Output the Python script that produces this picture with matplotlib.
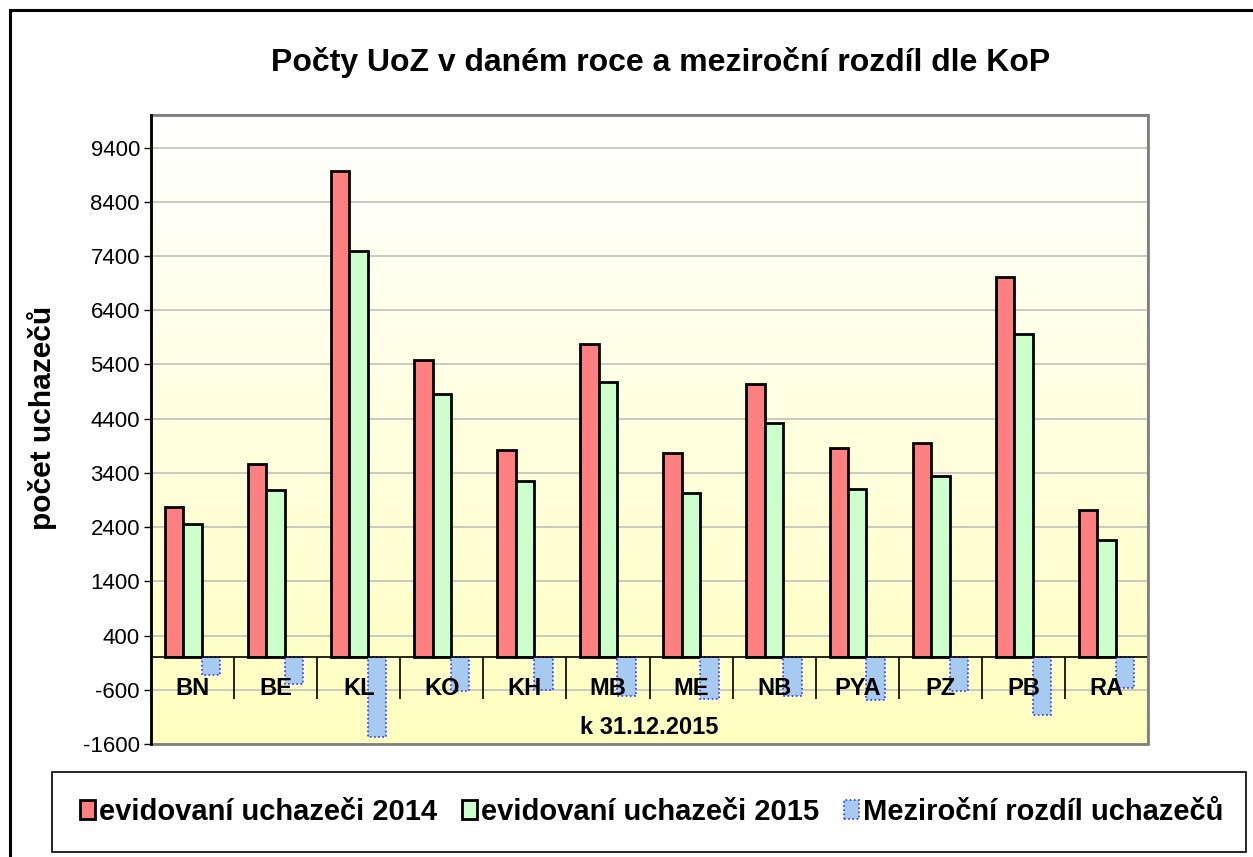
import matplotlib
matplotlib.use("Agg")
import matplotlib.pyplot as plt
import numpy as np
from matplotlib.patches import Rectangle
from matplotlib.colors import LinearSegmentedColormap
from matplotlib.ticker import FixedLocator

plt.rcParams['font.family'] = ['Liberation Sans', 'DejaVu Sans']
plt.rcParams['axes.unicode_minus'] = False

categories = ["BN", "BE", "KL", "KO", "KH", "MB", "ME", "NB", "PYA", "PZ", "PB", "RA"]
uchazeci_2014 = [2775, 3555, 8967, 5480, 3819, 5775, 3771, 5044, 3863, 3943, 7011, 2707]
uchazeci_2015 = [2454, 3076, 7491, 4860, 3242, 5081, 3026, 4325, 3094, 3339, 5959, 2159]
rozdil = [-319, -491, -1476, -627, -596, -707, -762, -720, -793, -614, -1057, -559]
y_ticks = [-1600, -600, 400, 1400, 2400, 3400, 4400, 5400, 6400, 7400, 8400, 9400]

series_labels = ["evidovaní uchazeči 2014", "evidovaní uchazeči 2015", "Meziroční rozdíl uchazečů"]
title = "Počty UoZ v daném roce a meziroční rozdíl dle KoP"
ylabel = "počet uchazečů"
xlabel = "k 31.12.2015"

W, H = 1253, 857
fig = plt.figure(figsize=(W / 100, H / 100), dpi=100)
fig.patch.set_facecolor("white")

ax = fig.add_axes([151 / W, 1 - 744 / H, (1148 - 151) / W, (744 - 115) / H])

# gradient background
cmap = LinearSegmentedColormap.from_list("bg", ["#FFFFC0", "#FFFFFF"])
grad = np.linspace(0, 1, 256).reshape(-1, 1)
ax.imshow(grad, extent=[0, 1, 0, 1], transform=ax.transAxes, cmap=cmap,
          origin="lower", aspect="auto", zorder=0)

x = np.arange(len(categories))
w = 1 / 4.5
b1 = ax.bar(x - w, uchazeci_2014, w, color="#FF8080", edgecolor="black", linewidth=2, zorder=1)
b2 = ax.bar(x, uchazeci_2015, w, color="#CCFFCC", edgecolor="black", linewidth=2, zorder=1)
b3 = ax.bar(x + w, rozdil, w, color="#A6CAF0", edgecolor="#3333FF", linewidth=1.2,
            linestyle=(0, (1, 1.5)), zorder=1)

ax.set_xlim(-0.5, len(categories) - 0.5)
ax.set_ylim(-1600, 10000)
ax.yaxis.set_major_locator(FixedLocator(y_ticks))
for v in y_ticks:
    ax.axhline(v, color="#C0C0C0", linewidth=1.2, zorder=0.5)

ax.xaxis.set_minor_locator(FixedLocator(np.arange(len(categories) + 1) - 0.5))
ax.tick_params(axis="x", which="major", length=0, pad=14, labelsize=17)
ax.tick_params(axis="x", which="minor", length=30, width=1.2, direction="out", color="black")
ax.tick_params(axis="y", which="major", labelsize=16, length=5, width=1, color="black", pad=3)
ax.set_xticks(x)
ax.set_xticklabels(categories)

ax.add_patch(Rectangle((0, 0), 1, 1, transform=ax.transAxes, fill=False,
                       edgecolor="#808080", linewidth=2, zorder=3, clip_on=False))
for s in ["top", "right"]:
    ax.spines[s].set_color("#808080")
    ax.spines[s].set_linewidth(1.5)
ax.spines["left"].set_color("black")
ax.spines["left"].set_linewidth(2)
ax.spines["left"].set_zorder(3.5)
ax.spines["bottom"].set_position(("data", 0))
ax.spines["bottom"].set_color("black")
ax.spines["bottom"].set_linewidth(1.2)

ax.text(0.5, (744 - 728) / (744 - 115), xlabel, transform=ax.transAxes,
        ha="center", va="center", fontsize=17, fontweight="bold")

fig.text(42 / W, 1 - 418 / H, ylabel, rotation=90, ha="center", va="center",
         fontsize=21.5, fontweight="bold")
fig.text(661 / W, 1 - 62 / H, title, ha="center", va="center", fontsize=23, fontweight="bold")

# legend
fig.patches.append(Rectangle((52 / W, 1 - 852 / H), (1246 - 52) / W, 80 / H,
                             transform=fig.transFigure, fill=False, edgecolor="black",
                             linewidth=1.2))
fig.legend([b1, b2, b3], series_labels, loc="center", bbox_to_anchor=(652 / W, 1 - 812 / H),
           ncol=3, frameon=False, prop={"size": 21, "weight": "bold"},
           handlelength=0.5, handleheight=0.6, handletextpad=0.15, columnspacing=0.85)

# outer chart border
fig.patches.append(Rectangle((10 / W, -0.1), 1.2, 0.1 + (H - 10) / H,
                             transform=fig.transFigure, fill=False, edgecolor="black",
                             linewidth=2.2))

fig.canvas.draw()
for t in ax.xaxis.get_majorticklabels():
    t.set_fontweight("bold")
    t.set_fontsize(17)

fig.savefig("out.png", dpi=100)
